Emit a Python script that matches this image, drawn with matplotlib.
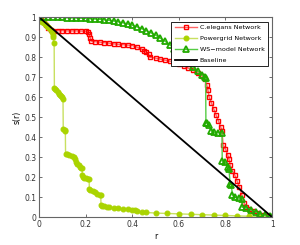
import matplotlib
matplotlib.use("Agg")
import matplotlib.pyplot as plt

# C.elegans network
r_cel = [0.0, 0.01, 0.02, 0.03, 0.04, 0.05, 0.06, 0.08, 0.10, 0.12, 0.14, 0.16, 0.18, 0.20,
         0.21, 0.215, 0.22, 0.225, 0.24, 0.26, 0.28, 0.30, 0.32, 0.34, 0.36, 0.38, 0.40,
         0.42, 0.44, 0.45, 0.46, 0.47, 0.475, 0.50, 0.52, 0.54, 0.56, 0.58, 0.60, 0.62,
         0.64, 0.66, 0.68, 0.70, 0.71, 0.72, 0.725, 0.73, 0.74, 0.75, 0.76, 0.77, 0.78,
         0.785, 0.79, 0.80, 0.81, 0.815, 0.82, 0.83, 0.84, 0.85, 0.86, 0.87, 0.88, 0.89,
         0.90, 0.92, 0.94, 0.96, 0.98, 1.0]
s_cel = [1.0, 0.99, 0.975, 0.96, 0.945, 0.935, 0.932, 0.932, 0.932, 0.931, 0.931, 0.931, 0.930, 0.930,
         0.928, 0.915, 0.895, 0.88, 0.877, 0.875, 0.872, 0.87, 0.866, 0.864, 0.862, 0.86, 0.858,
         0.85, 0.84, 0.83, 0.825, 0.815, 0.80, 0.795, 0.79, 0.785, 0.78, 0.775, 0.765, 0.755,
         0.745, 0.735, 0.72, 0.705, 0.69, 0.66, 0.635, 0.60, 0.57, 0.54, 0.51, 0.48, 0.45,
         0.43, 0.36, 0.34, 0.31, 0.29, 0.26, 0.23, 0.21, 0.18, 0.15, 0.11, 0.07, 0.05,
         0.04, 0.03, 0.02, 0.012, 0.006, 0.0]

# Powergrid network
r_pow = [0.0, 0.005, 0.01, 0.015, 0.02, 0.025, 0.03, 0.035, 0.04, 0.045, 0.05, 0.055, 0.06, 0.062,
         0.065, 0.066, 0.07, 0.075, 0.08, 0.085, 0.09, 0.095, 0.10, 0.103, 0.104, 0.11, 0.113,
         0.114, 0.12, 0.13, 0.14, 0.15, 0.155, 0.16, 0.165, 0.17, 0.175, 0.18, 0.185, 0.186,
         0.19, 0.195, 0.20, 0.21, 0.215, 0.216, 0.22, 0.23, 0.24, 0.25, 0.26, 0.265, 0.266,
         0.27, 0.28, 0.29, 0.30, 0.32, 0.34, 0.36, 0.38, 0.40, 0.41, 0.42, 0.44, 0.46, 0.50,
         0.55, 0.60, 0.65, 0.70, 0.75, 0.80, 0.85, 0.90, 0.95, 1.0]
s_pow = [1.0, 0.99, 0.98, 0.975, 0.97, 0.965, 0.96, 0.955, 0.95, 0.945, 0.935, 0.925, 0.91, 0.90,
         0.87, 0.645, 0.64, 0.635, 0.625, 0.615, 0.61, 0.605, 0.60, 0.59, 0.44, 0.435, 0.43,
         0.315, 0.313, 0.31, 0.305, 0.30, 0.29, 0.275, 0.265, 0.26, 0.25, 0.245, 0.245, 0.21,
         0.20, 0.195, 0.193, 0.19, 0.19, 0.14, 0.135, 0.13, 0.125, 0.115, 0.11, 0.108, 0.06,
         0.057, 0.055, 0.052, 0.05, 0.047, 0.043, 0.04, 0.039, 0.037, 0.034, 0.028, 0.025, 0.023, 0.02,
         0.018, 0.016, 0.014, 0.012, 0.01, 0.008, 0.006, 0.004, 0.002, 0.0]

# WS-model network
r_ws = [0.0, 0.02, 0.04, 0.06, 0.08, 0.10, 0.12, 0.14, 0.16, 0.18, 0.20, 0.22, 0.24, 0.26,
        0.28, 0.30, 0.32, 0.34, 0.36, 0.38, 0.40, 0.42, 0.44, 0.46, 0.48, 0.50, 0.52, 0.54,
        0.56, 0.58, 0.60, 0.62, 0.64, 0.66, 0.68, 0.70, 0.71, 0.715, 0.716, 0.72, 0.73, 0.74,
        0.75, 0.77, 0.785, 0.786, 0.80, 0.81, 0.815, 0.82, 0.825, 0.83, 0.84, 0.86, 0.87,
        0.871, 0.89, 0.91, 0.93, 0.95, 0.97, 0.99, 1.0]
s_ws = [1.0, 1.0, 1.0, 1.0, 1.0, 0.999, 0.998, 0.997, 0.996, 0.995, 0.994, 0.993, 0.991, 0.989,
        0.987, 0.984, 0.981, 0.977, 0.972, 0.966, 0.96, 0.952, 0.943, 0.933, 0.922, 0.91, 0.895, 0.88,
        0.862, 0.843, 0.822, 0.80, 0.775, 0.75, 0.73, 0.71, 0.70, 0.695, 0.47, 0.47, 0.46, 0.43,
        0.425, 0.422, 0.42, 0.28, 0.275, 0.25, 0.24, 0.165, 0.16, 0.11, 0.10, 0.095, 0.09,
        0.05, 0.045, 0.035, 0.025, 0.015, 0.008, 0.003, 0.0]

r_base = [0, 1]
s_base = [1, 0]

fig = plt.figure(figsize=(3.0, 2.45), dpi=100)
ax = fig.add_axes([0.13, 0.114, 0.777, 0.816])

ax.plot(r_cel, s_cel, color="#ff6666", lw=1.0, marker="s", ms=3, mec="#ff0000",
        mfc="none", mew=1.0, label="C.elegans Network")
ax.plot(r_pow, s_pow, color="#c8e060", lw=1.0, marker="o", ms=3.5, mec="#aad400",
        mfc="#aad400", mew=0.8, label="Powergrid Network")
ax.plot(r_ws, s_ws, color="#55cc44", lw=1.0, marker="^", ms=4, mec="#22aa00",
        mfc="none", mew=1.3, label="WS\u2212model Network")
ax.plot(r_base, s_base, color="black", lw=1.3, label="Baseline")

ax.set_xlim(0, 1)
ax.set_ylim(0, 1)
ax.set_xticks([0, 0.2, 0.4, 0.6, 0.8, 1])
ax.set_xticklabels(["0", "0.2", "0.4", "0.6", "0.8", "1"])
ax.set_yticks([0, 0.1, 0.2, 0.3, 0.4, 0.5, 0.6, 0.7, 0.8, 0.9, 1])
ax.set_yticklabels(["0", "0.1", "0.2", "0.3", "0.4", "0.5", "0.6", "0.7", "0.8", "0.9", "1"])
ax.tick_params(direction="in", top=True, right=True, labelsize=5.5, length=2.5,
               width=0.5, colors="#333333", pad=2)
for sp in ax.spines.values():
    sp.set_color("#666666")
    sp.set_linewidth(0.8)
ax.set_xlabel("r", fontsize=5.5, labelpad=2)
ax.set_ylabel("s(r)", fontsize=5.5, labelpad=2)

leg = ax.legend(loc="upper right", fontsize=4.6, fancybox=False, edgecolor="black",
                framealpha=1, handlelength=3.5, borderpad=0.5, labelspacing=0.85,
                handletextpad=0.4, borderaxespad=0.7)
leg.get_frame().set_linewidth(0.6)

fig.savefig("out.png", dpi=100)
